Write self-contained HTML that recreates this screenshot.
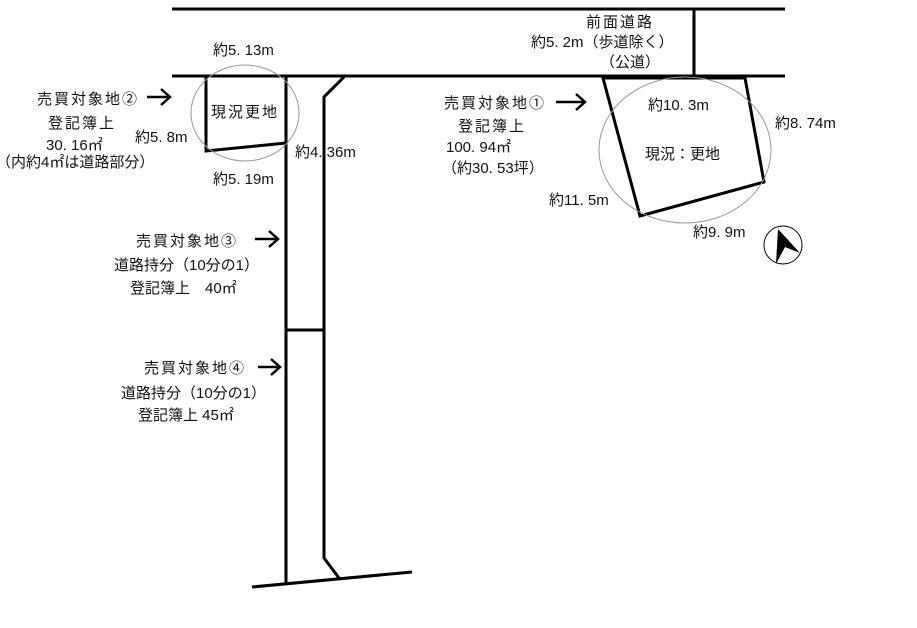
<!DOCTYPE html>
<html><head><meta charset="utf-8"><style>
html,body{margin:0;padding:0;background:#fff;width:917px;height:628px;overflow:hidden}
svg text{font-family:"Liberation Sans","Noto Sans CJK JP",sans-serif;font-size:15px;fill:#111}
svg text.cj{letter-spacing:2px}
</style></head><body>
<svg width="917" height="628" viewBox="0 0 917 628" xmlns="http://www.w3.org/2000/svg">
<g stroke="#000" stroke-width="3" fill="none" stroke-linejoin="miter">
<line x1="172" y1="9" x2="785" y2="9"/>
<line x1="172" y1="76" x2="785" y2="76"/>
<line x1="694" y1="9" x2="694" y2="76"/>
<polyline points="206,77 206,151 286,143"/>
<line x1="286" y1="77" x2="286" y2="583"/>
<polyline points="344,77 324,97 324,558 339,578"/>
<line x1="286" y1="330" x2="324" y2="330"/>
<line x1="252" y1="587" x2="412" y2="572"/>
<polygon points="603,78 745,78 764,182 640,216"/>
</g>
<g stroke="#999" stroke-width="1" fill="none">
<ellipse cx="245" cy="113" rx="54" ry="48"/>
<ellipse cx="685" cy="150" rx="86" ry="73"/>
</g>
<g stroke="#000" stroke-width="2.5" fill="none">
<path d="M147 97 H170 M161 89 L170 97 L161 105"/>
<path d="M556 102 H585 M576 94 L585 102 L576 110"/>
<path d="M255 239 H278 M269 231 L278 239 L269 247"/>
<path d="M258 367 H280 M271 359 L280 367 L271 375"/>
</g>
<circle cx="783" cy="245" r="19" fill="none" stroke="#000" stroke-width="1"/>
<polygon points="778,229 800,253 785,247 776,264" fill="#000"/>
<text x="586" y="27" class="cj">前面道路</text>
<text x="531" y="47">約5. 2m（歩道除く）</text>
<text x="600" y="67">（公道）</text>
<text x="213" y="55">約5. 13m</text>
<text x="211" y="117" class="cj">現況更地</text>
<text x="135" y="142">約5. 8m</text>
<text x="213" y="184">約5. 19m</text>
<text x="295" y="157">約4. 36m</text>
<text x="37" y="104" class="cj">売買対象地②</text>
<text x="48" y="128" class="cj">登記簿上</text>
<text x="46" y="150">30. 16㎡</text>
<text x="-4" y="167">（内約4㎡は道路部分）</text>
<text x="444" y="108" class="cj">売買対象地①</text>
<text x="458" y="131" class="cj">登記簿上</text>
<text x="446" y="152">100. 94㎡</text>
<text x="442" y="173">（約30. 53坪）</text>
<text x="648" y="110">約10. 3m</text>
<text x="775" y="128">約8. 74m</text>
<text x="645" y="159">現況：更地</text>
<text x="549" y="205">約11. 5m</text>
<text x="693" y="237">約9. 9m</text>
<text x="136" y="246" class="cj">売買対象地③</text>
<text x="114" y="270">道路持分（10分の1）</text>
<text x="130" y="293">登記簿上　40㎡</text>
<text x="144" y="373" class="cj">売買対象地④</text>
<text x="121" y="398">道路持分（10分の1）</text>
<text x="138" y="420">登記簿上 45㎡</text>
</svg>
</body></html>
